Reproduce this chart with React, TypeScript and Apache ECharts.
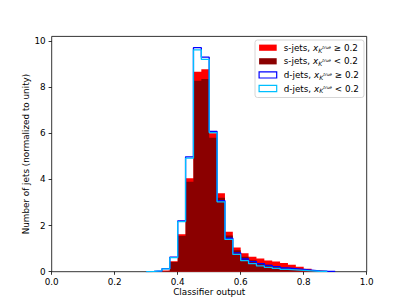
import React, { useEffect, useRef } from 'react';
import * as echarts from 'echarts';

// Histogram: 40 bins of width 0.025 from 0 to 1
const BIN_WIDTH = 0.025;

// s-jets, x_K^true >= 0.2 (red, filled)
const sJetsHigh = [
  0, 0, 0, 0, 0, 0, 0, 0, 0, 0,
  0, 0, 0, 0.01, 0.05, 0.45, 1.62, 4.05, 8.67, 8.78,
  6.0, 3.4, 1.73, 1.05, 0.8, 0.65, 0.57, 0.49, 0.44, 0.38,
  0.3, 0.21, 0.13, 0.06, 0.03, 0.01, 0, 0, 0, 0,
];
// s-jets, x_K^true < 0.2 (dark red, filled)
const sJetsLow = [
  0, 0, 0, 0, 0, 0, 0, 0, 0, 0,
  0, 0, 0, 0.01, 0.04, 0.42, 1.55, 3.9, 8.28, 8.35,
  5.81, 3.21, 1.57, 0.93, 0.65, 0.5, 0.38, 0.3, 0.22, 0.15,
  0.1, 0.06, 0.03, 0.01, 0, 0, 0, 0, 0, 0,
];
// d-jets, x_K^true >= 0.2 (blue, step)
const dJetsHigh = [
  0, 0, 0, 0, 0, 0, 0, 0, 0, 0,
  0, 0, 0.01, 0.03, 0.13, 0.63, 2.2, 4.98, 9.71, 9.3,
  6.08, 3.08, 1.45, 0.82, 0.55, 0.44, 0.35, 0.27, 0.22, 0.16,
  0.13, 0.1, 0.07, 0.04, 0.02, 0.01, 0, 0, 0, 0,
];
// d-jets, x_K^true < 0.2 (cyan, step)
const dJetsLow = [
  0, 0, 0, 0, 0, 0, 0, 0, 0, 0,
  0, 0, 0.01, 0.04, 0.12, 0.61, 2.17, 4.92, 9.62, 9.2,
  6.03, 3.03, 1.4, 0.75, 0.48, 0.35, 0.25, 0.19, 0.14, 0.1,
  0.08, 0.06, 0.04, 0.02, 0.01, 0, 0, 0, 0, 0,
];

const xTicks = [0, 0.2, 0.4, 0.6, 0.8, 1.0];
const yTicks = [0, 2, 4, 6, 8, 10];

const NAMES = [
  's-jets, x_K^true ≥ 0.2',
  's-jets, x_K^true < 0.2',
  'd-jets, x_K^true ≥ 0.2',
  'd-jets, x_K^true < 0.2',
];
const LEGEND_RICH: Record<string, string> = {
  [NAMES[0]]: '{p|s-jets, }{x|x}{k|K}{t|true}{n| ≥ 0.2}',
  [NAMES[1]]: '{p|s-jets, }{x|x}{k|K}{t|true}{n| < 0.2}',
  [NAMES[2]]: '{p|d-jets, }{x|x}{k|K}{t|true}{n| ≥ 0.2}',
  [NAMES[3]]: '{p|d-jets, }{x|x}{k|K}{t|true}{n| < 0.2}',
};

function toStep(values: number[]): number[][] {
  const first = values.findIndex((v) => v > 0);
  let last = values.length - 1;
  while (last >= 0 && values[last] <= 0) last--;
  if (first < 0) return [];
  const pts: number[][] = [];
  const edge = (i: number) => +(i * BIN_WIDTH).toFixed(4);
  pts.push([edge(first), 0]);
  for (let i = first; i <= last; i++) pts.push([edge(i), values[i]]);
  pts.push([edge(last + 1), values[last]]);
  pts.push([edge(last + 1), 0]);
  return pts;
}

const FONT = 'DejaVu Sans';
const FS = 8.8;

export default function App() {
  const ref = useRef<HTMLDivElement>(null);
  useEffect(() => {
    if (!ref.current) return;
    const chart = echarts.init(ref.current, undefined, { renderer: 'svg' });
    const filled = (name: string, values: number[], color: string) => ({
      name,
      type: 'line',
      step: 'end',
      data: toStep(values),
      symbol: 'none',
      showSymbol: false,
      color,
      lineStyle: { width: 0, color },
      areaStyle: { color, opacity: 1 },
      silent: true,
    });
    const stepped = (name: string, values: number[], color: string) => ({
      name,
      type: 'line',
      step: 'end',
      data: toStep(values),
      symbol: 'none',
      showSymbol: false,
      color,
      lineStyle: { width: 1.3, color },
      silent: true,
    });
    chart.setOption({
      animation: false,
      grid: {
        left: 51.7,
        right: 40.3,
        top: 36.4,
        bottom: 33.3,
        show: true,
        borderColor: '#000',
        borderWidth: 0.8,
        backgroundColor: 'transparent',
      },
      xAxis: {
        type: 'value',
        min: 0,
        max: 1,
        interval: 0.2,
        name: 'Classifier output',
        nameLocation: 'middle',
        nameGap: 16,
        nameMoveOverlap: false,
        nameTextStyle: { fontFamily: FONT, fontSize: FS, color: '#000' },
        axisLine: { show: false },
        axisTick: { show: true, inside: false, length: 3.1, lineStyle: { color: '#000', width: 0.8 }, customValues: xTicks },
        axisLabel: {
          margin: 6,
          fontFamily: FONT,
          fontSize: FS,
          color: '#000',
          customValues: xTicks,
          formatter: (v: number) => v.toFixed(1),
        },
        splitLine: { show: false },
      },
      yAxis: {
        type: 'value',
        min: 0,
        max: 10.2,
        interval: 2,
        name: 'Number of jets (normalized to unity)',
        nameLocation: 'middle',
        nameGap: 21,
        nameMoveOverlap: false,
        nameTextStyle: { fontFamily: FONT, fontSize: FS, color: '#000' },
        axisLine: { show: false },
        axisTick: { show: true, inside: false, length: 3.1, lineStyle: { color: '#000', width: 0.8 }, customValues: yTicks },
        axisLabel: {
          margin: 6,
          fontFamily: FONT,
          fontSize: FS,
          color: '#000',
          customValues: yTicks,
          formatter: (v: number) => String(Math.round(v)),
        },
        splitLine: { show: false },
      },
      legend: {
        orient: 'vertical',
        left: 255,
        top: 40,
        itemWidth: 17.6,
        itemHeight: 6.2,
        itemGap: 3.6,
        padding: [3.2, 5, 3.5, 3.5],
        backgroundColor: 'rgba(255,255,255,0.8)',
        borderColor: '#cccccc',
        borderWidth: 0.8,
        borderRadius: 2.5,
        selectedMode: false,
        data: [
          { name: NAMES[0], icon: 'rect', itemStyle: { color: '#ff0000', borderWidth: 0 } },
          { name: NAMES[1], icon: 'rect', itemStyle: { color: '#8b0000', borderWidth: 0 } },
          { name: NAMES[2], icon: 'rect', itemStyle: { color: '#ffffff', borderColor: '#0000ff', borderWidth: 1.2 } },
          { name: NAMES[3], icon: 'rect', itemStyle: { color: '#ffffff', borderColor: '#00bfff', borderWidth: 1.2 } },
        ],
        formatter: (name: string) => LEGEND_RICH[name] || name,
        textStyle: {
          fontFamily: FONT,
          fontSize: FS,
          color: '#000',
          rich: {
            p: { fontFamily: FONT, fontSize: FS, color: '#000', lineHeight: 11, padding: [0, 0, 0, 2] },
            n: { fontFamily: FONT, fontSize: FS, color: '#000', lineHeight: 11 },
            x: { fontFamily: FONT, fontSize: FS, color: '#000', fontStyle: 'italic', lineHeight: 11 },
            k: { fontFamily: FONT, fontSize: 6.2, color: '#000', fontStyle: 'italic', lineHeight: 7, verticalAlign: 'bottom' },
            t: { fontFamily: FONT, fontSize: 4.3, color: '#000', fontStyle: 'italic', lineHeight: 5, verticalAlign: 'middle', padding: [0, 0, 1, 0] },
          },
        },
      },
      series: [
        filled(NAMES[0], sJetsHigh, '#ff0000'),
        filled(NAMES[1], sJetsLow, '#8b0000'),
        stepped(NAMES[2], dJetsHigh, '#0000ff'),
        stepped(NAMES[3], dJetsLow, '#00bfff'),
      ],
    });
    return () => chart.dispose();
  }, []);
  return <div ref={ref} style={{ width: 407, height: 305, position: 'absolute', left: 0, top: 0 }} />;
}
